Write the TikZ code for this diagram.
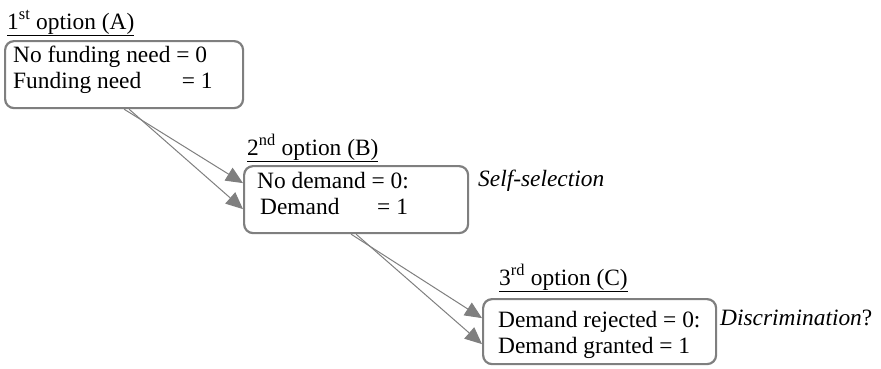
\documentclass[tikz,border=0pt]{standalone}
\usepackage{fontspec}
\setmainfont{Liberation Serif}
\newfontfamily\tnr{Liberation Serif}
\usetikzlibrary{arrows.meta}
\definecolor{boxgray}{HTML}{7F7F7F}
\begin{document}
\begin{tikzpicture}[x=1pt,y=-1pt,
  txt/.style={font=\tnr\fontsize{23.4}{26}\selectfont, inner sep=0pt, anchor=base west},
  optbox/.style={draw=boxgray, line width=2.2pt, rounded corners=9pt, anchor=north west, inner sep=0pt},
  conn/.style={draw=boxgray, line width=1pt, -{Triangle[length=17pt,width=15pt]}}]
\useasboundingbox (0,0) rectangle (881,368);
% labels
\node[txt] (la) at (7,29) {\underline{1\textsuperscript{st} option (A)}};
\node[txt] (lb) at (247,155) {\underline{2\textsuperscript{nd} option (B)}};
\node[txt] (lc) at (499,285) {\underline{3\textsuperscript{rd} option (C)}};
% boxes
\node[optbox, minimum width=238pt, minimum height=67pt] (A) at (4,40) {};
\node[optbox, minimum width=224pt, minimum height=67pt] (B) at (243,165) {};
\node[optbox, minimum width=233pt, minimum height=65pt] (C) at (482,298) {};
% box texts
\node[txt] (a1) at (13,62) {No funding need = 0};
\node[txt] (a2) at (13,88) {\makebox[168.7pt][l]{Funding need}= 1};
\node[txt] (b1) at (257,188) {No demand = 0:};
\node[txt] (b2) at (260,214) {\makebox[117pt][l]{Demand}= 1};
\node[txt] (c1) at (498,327) {Demand rejected = 0:};
\node[txt] (c2) at (498,353) {Demand granted = 1};
% side notes
\node[txt] (ss) at (478,186) {\itshape Self-selection};
\node[txt] (dc) at (720,325) {\textit{Discrimination}?};
% connectors
\draw[conn] (A.south) -- ([yshift=16.5pt]B.west);
\draw[conn] ([xshift=5pt]A.south) -- ([yshift=-9.5pt]B.west);
\draw[conn] ([xshift=-5pt]B.south) -- ([yshift=13.5pt]C.west);
\draw[conn] (B.south) -- ([yshift=-12.5pt]C.west);
\end{tikzpicture}
\end{document}
